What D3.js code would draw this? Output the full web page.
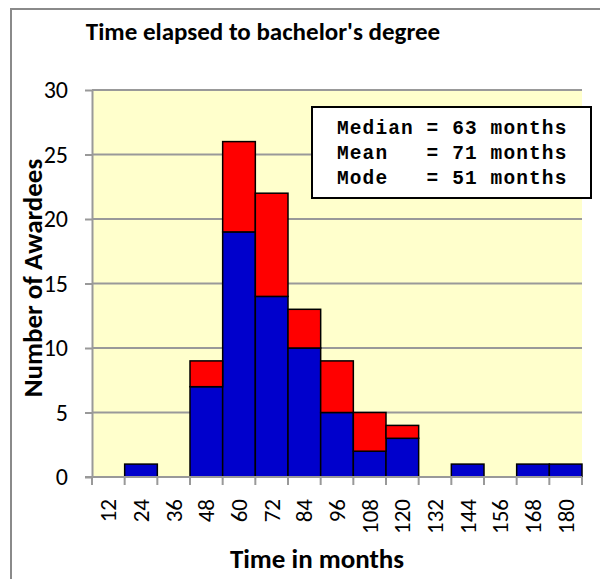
<!DOCTYPE html>
<html lang="en">
<head>
<meta charset="UTF-8">
<title>Time elapsed to bachelor's degree</title>
<script src="https://cdn.jsdelivr.net/npm/d3@7"></script>
<style>
    body{ margin: 0; background: #fff; }
    .label{ font-family: Carlito, Lato, "Open Sans", sans-serif; fill: #000; }
    .title{ font-size: 25px; font-weight: bold; }
    .axisTitle{ font-size: 27px; font-weight: bold; }
    .tick text{ font-family: Carlito, Lato, "Open Sans", sans-serif; font-size: 24px; fill: #000; }
    .grid line{ stroke: #999; stroke-width: 2px; }
    .stats{ font-family: "Liberation Mono", "DejaVu Sans Mono", monospace; font-weight: bold; font-size: 19.5px; letter-spacing: 1.1px; white-space: pre; }
</style>
</head>
<body>
<svg id="svg_main" width="600" height="579"></svg>
<script>
    // histogram bins (months)
    const months = [12, 24, 36, 48, 60, 72, 84, 96, 108, 120, 132, 144, 156, 168, 180];
    // lower (blue) and upper (red) part of every stacked bar
    const blueCounts = [0, 1, 0, 7, 19, 14, 10, 5, 2, 3, 0, 1, 0, 1, 1];
    const redCounts  = [0, 0, 0, 2, 7, 8, 3, 4, 3, 1, 0, 0, 0, 0, 0];
    const yTicks = [0, 5, 10, 15, 20, 25, 30];
    const statLines = ["Median = 63 months", "Mean   = 71 months", "Mode   = 51 months"];

    const svg = d3.select('#svg_main');

    // chart frame (runs off the right and bottom edge like the original)
    svg.append('rect')
        .attr('x', 11).attr('y', 9)
        .attr('width', 620).attr('height', 600)
        .attr('fill', '#fff')
        .attr('stroke', '#8a8a8a').attr('stroke-width', 2);

    const plot = {left: 92, right: 582, top: 90, bottom: 477};

    const xScale = d3.scaleBand()
        .domain(months)
        .range([plot.left, plot.right])
        .padding(0);
    const yScale = d3.scaleLinear()
        .domain([0, 30])
        .range([plot.bottom, plot.top]);

    // plot background
    svg.append('rect')
        .attr('x', plot.left).attr('y', plot.top)
        .attr('width', plot.right - plot.left)
        .attr('height', plot.bottom - plot.top)
        .attr('fill', '#ffffcc');

    // horizontal grid lines
    svg.append('g').attr('class', 'grid')
        .selectAll('line')
        .data(yTicks.filter(d => d > 0))
        .enter().append('line')
        .attr('x1', plot.left).attr('x2', plot.right)
        .attr('y1', d => yScale(d)).attr('y2', d => yScale(d));

    // stacked bars
    const stacked = months.map((m, i) => ({m: m, blue: blueCounts[i], red: redCounts[i]}));
    const series = d3.stack().keys(['blue', 'red'])(stacked);
    const colors = {blue: '#0000cc', red: '#ff0000'};

    svg.append('g').selectAll('g')
        .data(series)
        .enter().append('g')
        .attr('fill', d => colors[d.key])
        .selectAll('rect')
        .data(d => d.filter(p => p[1] > p[0]))
        .enter().append('rect')
        .attr('x', d => xScale(d.data.m))
        .attr('width', xScale.bandwidth())
        .attr('y', d => yScale(d[1]))
        .attr('height', d => yScale(d[0]) - yScale(d[1]))
        .attr('stroke', '#000')
        .attr('stroke-width', 1.5);

    // y axis
    const yAxis = d3.axisLeft(yScale).tickValues(yTicks).tickSize(7).tickPadding(17).tickSizeOuter(0);
    const gy = svg.append('g').attr('transform', `translate(${plot.left},0)`).call(yAxis);
    gy.select('.domain').attr('stroke', '#999').attr('stroke-width', 2);
    gy.selectAll('.tick line').attr('stroke', '#999').attr('stroke-width', 2);

    // x axis: ticks sit on bin edges, labels in bin centres
    const gx = svg.append('g').attr('transform', `translate(0,${plot.bottom})`);
    gx.append('line')
        .attr('x1', plot.left - 7).attr('x2', plot.right)
        .attr('stroke', '#999').attr('stroke-width', 2);
    const edges = months.map(m => xScale(m)).concat([plot.right]);
    gx.selectAll('.edge')
        .data(edges)
        .enter().append('line')
        .attr('x1', d => d).attr('x2', d => d)
        .attr('y1', 0).attr('y2', 8)
        .attr('stroke', '#999').attr('stroke-width', 2);
    gx.selectAll('.xlab')
        .data(months)
        .enter().append('text')
        .attr('class', 'label')
        .attr('font-size', '23px')
        .attr('text-anchor', 'end')
        .attr('transform', d => `translate(${xScale(d) + xScale.bandwidth() / 2 + 8},22) rotate(-90)`)
        .text(d => d);

    // titles
    svg.append('text').attr('class', 'label title')
        .attr('x', 263).attr('y', 40).attr('text-anchor', 'middle')
        .text("Time elapsed to bachelor's degree");
    svg.append('text').attr('class', 'label axisTitle')
        .attr('x', 317).attr('y', 568).attr('text-anchor', 'middle')
        .text('Time in months');
    svg.append('text').attr('class', 'label axisTitle')
        .attr('text-anchor', 'middle')
        .attr('transform', 'translate(42,278) rotate(-90)')
        .text('Number of Awardees');

    // statistics box
    svg.append('rect')
        .attr('x', 312).attr('y', 107)
        .attr('width', 279).attr('height', 91)
        .attr('fill', '#fff').attr('stroke', '#000').attr('stroke-width', 2);
    svg.append('g').selectAll('text')
        .data(statLines)
        .enter().append('text')
        .attr('class', 'stats')
        .attr('x', 337)
        .attr('y', (d, i) => 134 + i * 25)
        .text(d => d);
</script>
</body>
</html>
